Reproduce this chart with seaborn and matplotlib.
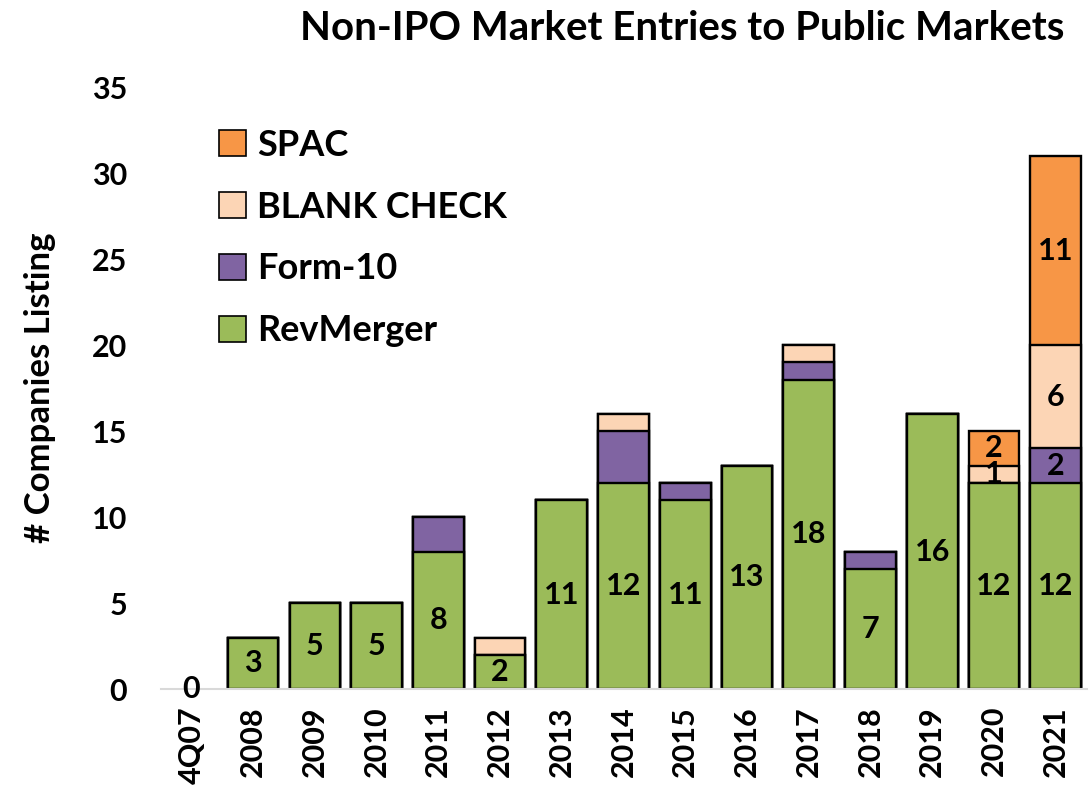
import matplotlib
matplotlib.use("Agg")
import matplotlib.pyplot as plt
import seaborn as sns
import numpy as np
from matplotlib.patches import Patch

periods = ["4Q07", "2008", "2009", "2010", "2011", "2012", "2013", "2014",
           "2015", "2016", "2017", "2018", "2019", "2020", "2021"]
revmerger = [0, 3, 5, 5, 8, 2, 11, 12, 11, 13, 18, 7, 16, 12, 12]
form10 = [0, 0, 0, 0, 2, 0, 0, 3, 1, 0, 1, 1, 0, 0, 2]
blank_check = [0, 0, 0, 0, 0, 1, 0, 1, 0, 0, 1, 0, 0, 1, 6]
spac = [0, 0, 0, 0, 0, 0, 0, 0, 0, 0, 0, 0, 0, 2, 11]

series_names = ["RevMerger", "Form-10", "BLANK CHECK", "SPAC"]
colors = {"RevMerger": "#9BBB59", "Form-10": "#8064A2",
          "BLANK CHECK": "#FCD5B5", "SPAC": "#F79646"}

sns.set_theme(style="white")
plt.rcParams['font.family'] = ['Lato', 'DejaVu Sans']
plt.rcParams['font.weight'] = 'bold'
for k in ("text.color", "axes.labelcolor", "xtick.color", "ytick.color"):
    plt.rcParams[k] = "black"

fig = plt.figure(figsize=(10.92, 7.85), dpi=100)
ax = fig.add_axes([0.147, 0.122, 0.848, 0.767])

layers = [np.array(revmerger, float), np.array(form10, float),
          np.array(blank_check, float), np.array(spac, float)]
cums = np.cumsum(layers, axis=0)

# draw from the top of the stack downward so lower layers overlay
for i in range(3, -1, -1):
    name = series_names[i]
    vals = np.where(cums[i] > 0, cums[i], np.nan)
    sns.barplot(x=periods, y=vals, color=colors[name], edgecolor="black",
                linewidth=1.7, width=0.82, saturation=1, ax=ax, order=periods)

# value labels
lab_kw = dict(ha="center", va="center", fontsize=22, fontweight="bold", color="black")
for j, v in enumerate(revmerger):
    ax.text(j, v / 2 if v > 0 else 0, str(v), **lab_kw)
for j in (13, 14):
    for i in (1, 2, 3):
        v = layers[i][j]
        if v > 0:
            base = cums[i - 1][j]
            ax.text(j, base + v / 2, str(int(v)), **lab_kw)

ax.set_ylim(0, 35)
ax.set_xlim(-0.5, 14.5)
ax.set_yticks(range(0, 36, 5))
ax.tick_params(axis="y", labelsize=22, length=0, pad=24)
ax.tick_params(axis="x", labelsize=22, length=0, rotation=90, pad=12)
for lbl in ax.get_xticklabels() + ax.get_yticklabels():
    lbl.set_fontweight("bold")
ax.set_xlabel("")
ax.set_ylabel("# Companies Listing", fontsize=25, fontweight="bold", labelpad=26)
for s in ("top", "right", "left"):
    ax.spines[s].set_visible(False)
ax.spines["bottom"].set_color("#D9D9D9")
ax.spines["bottom"].set_linewidth(1.5)
ax.grid(False)

fig.text(0.975, 0.964, "Non-IPO Market Entries to Public Markets", ha="right",
         va="center", fontsize=29, fontweight="bold")

handles = [Patch(facecolor=colors[n], edgecolor="black", linewidth=1.2) for n in series_names[::-1]]
leg = ax.legend(handles, series_names[::-1], loc="upper left",
                bbox_to_anchor=(0.028, 0.985), frameon=False,
                prop={"size": 26, "weight": "bold"}, handlelength=0.75,
                handleheight=0.75, handletextpad=0.3, labelspacing=0.8)

fig.savefig("out.png", dpi=100)
